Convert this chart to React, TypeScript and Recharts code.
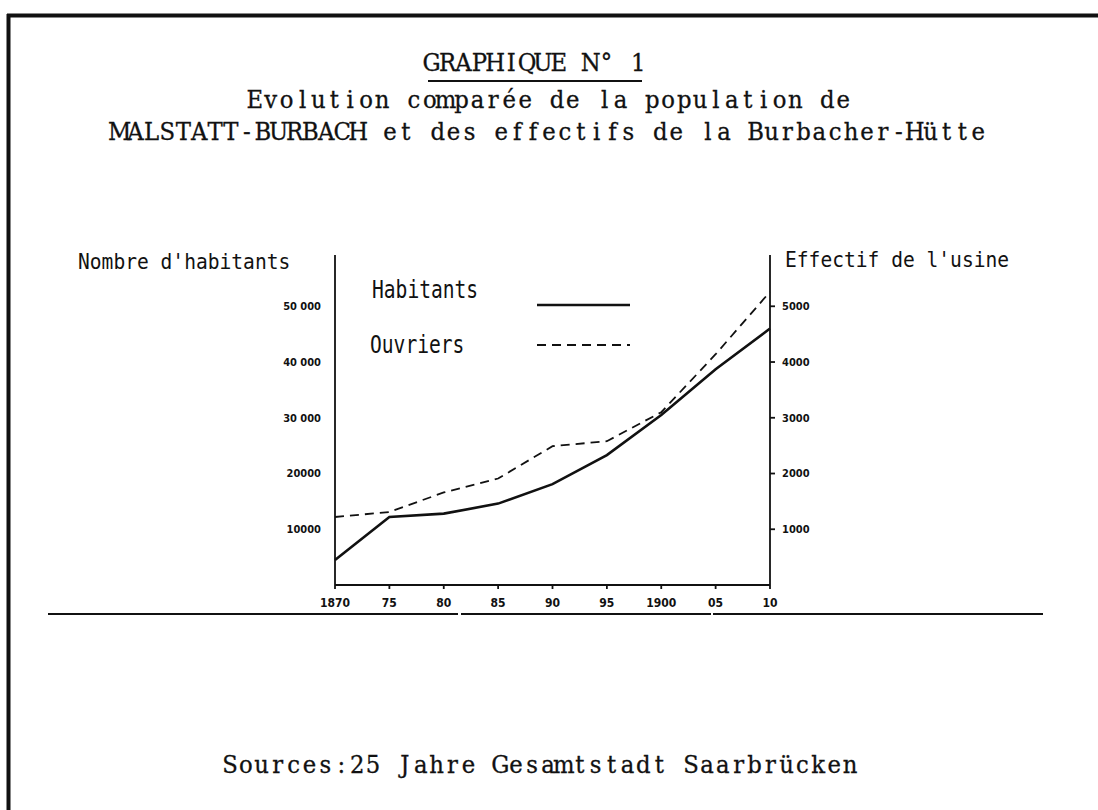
import { LineChart, Line, XAxis, YAxis } from 'recharts';

const years = [1870, 1875, 1880, 1885, 1890, 1895, 1900, 1905, 1910];
const xTickLabels = ['1870', '75', '80', '85', '90', '95', '1900', '05', '10'];
const habitants = [4500, 12200, 12800, 14600, 18100, 23300, 30500, 38700, 46000];
const ouvriers = [1220, 1310, 1660, 1910, 2490, 2580, 3100, 4140, 5260];
const leftTicks = [10000, 20000, 30000, 40000, 50000];
const leftTickLabels = ['10000', '20000', '30 000', '40 000', '50 000'];
const rightTicks = [1000, 2000, 3000, 4000, 5000];
const seriesNames = ['Habitants', 'Ouvriers'];

const INK = '#111';
const SERIF = '"DejaVu Serif", "Liberation Serif", serif';
const TYPE = '"DejaVu Sans Mono", monospace';
const NARROW = '"DejaVu Sans Condensed", "Liberation Sans Narrow", "DejaVu Sans", sans-serif';

const data = years.map((y, i) => ({ year: y, habitants: habitants[i], ouvriers: ouvriers[i] }));

// typewriter-like line: each glyph centred in a fixed-pitch cell
const PITCH = 15.9;
const SX = 0.95;
function TypeLine({ x, y, text }: { x: number; y: number; text: string }) {
  const chars = Array.from(text);
  const x0 = x - (chars.length * PITCH) / 2;
  const xs = chars.map((_, i) => (((i + 0.5) * PITCH) / SX).toFixed(1)).join(' ');
  return (
    <text
      transform={`translate(${x0},${y}) scale(${SX},1)`}
      x={xs}
      y={0}
      textAnchor="middle"
      fontFamily={SERIF}
      fontSize={24}
      fill={INK}
      stroke={INK}
      strokeWidth={0.3}
      style={{ fontVariantLigatures: 'none' }}
    >
      {text}
    </text>
  );
}

export default function App() {
  const tickFont = { fontFamily: NARROW, fontWeight: 700, fill: INK };
  return (
    <div style={{ position: 'relative', width: 1098, height: 810, background: '#fff' }}>
      <style>{'body{margin:0}'}</style>
      <div style={{ position: 'absolute', left: 0, top: 0 }}>
        <LineChart width={1098} height={810} data={data} margin={{ top: 255, right: 268, bottom: 195, left: 275 }}>
          <XAxis
            dataKey="year"
            type="number"
            domain={[1870, 1910]}
            ticks={years}
            tickFormatter={(v: number) => xTickLabels[years.indexOf(v)]}
            height={30}
            stroke={INK}
            strokeWidth={1.8}
            tickSize={4}
            tickMargin={9}
            tick={{ ...tickFont, fontSize: 12 }}
          />
          <YAxis
            yAxisId="left"
            orientation="left"
            width={60}
            domain={[0, 59200]}
            ticks={leftTicks}
            tickFormatter={(v: number) => leftTickLabels[leftTicks.indexOf(v)]}
            stroke={INK}
            strokeWidth={1.8}
            tickLine={false}
            tickSize={6}
            tickMargin={8}
            tick={{ ...tickFont, fontSize: 11 }}
          />
          <YAxis
            yAxisId="right"
            orientation="right"
            width={60}
            domain={[0, 5920]}
            ticks={rightTicks}
            stroke={INK}
            strokeWidth={1.8}
            tickSize={5}
            tickMargin={7}
            tick={{ ...tickFont, fontSize: 11 }}
          />
          <Line
            yAxisId="left"
            type="linear"
            dataKey="habitants"
            name={seriesNames[0]}
            stroke={INK}
            strokeWidth={2.6}
            dot={false}
            isAnimationActive={false}
          />
          <Line
            yAxisId="right"
            type="linear"
            dataKey="ouvriers"
            name={seriesNames[1]}
            stroke={INK}
            strokeWidth={1.8}
            strokeDasharray="9 6"
            dot={false}
            isAnimationActive={false}
          />
        </LineChart>
      </div>
      <svg
        width={1098}
        height={810}
        style={{ position: 'absolute', left: 0, top: 0, pointerEvents: 'none' }}
      >
        {/* page frame */}
        <line x1={8.5} y1={14} x2={8.5} y2={810} stroke={INK} strokeWidth={4} />
        <line x1={7} y1={15.5} x2={1098} y2={15.5} stroke={INK} strokeWidth={4} />
        {/* titles */}
        <TypeLine x={535} y={71} text="GRAPHIQUE N° 1" />
        <line x1={428} y1={81} x2={642} y2={81} stroke={INK} strokeWidth={2} />
        <TypeLine x={549} y={108} text="Evolution comparée de la population de" />
        <TypeLine x={549} y={140} text="MALSTATT-BURBACH et des effectifs de la Burbacher-Hütte" />
        <TypeLine x={540} y={773} text="Sources:25 Jahre Gesamtstadt Saarbrücken" />
        {/* axis titles */}
        <text transform="translate(78,269) scale(1,1.12)" fontFamily={TYPE} fontSize={19.6} fill={INK}>
          Nombre d'habitants
        </text>
        <text transform="translate(785,267) scale(1,1.12)" fontFamily={TYPE} fontSize={19.6} fill={INK}>
          Effectif de l'usine
        </text>
        {/* legend */}
        <text transform="translate(372,298) scale(1,1.25)" fontFamily={TYPE} fontSize={19.6} fill={INK}>
          {seriesNames[0]}
        </text>
        <line x1={537} y1={305} x2={630} y2={305} stroke={INK} strokeWidth={2.6} />
        <text transform="translate(370,353) scale(1,1.25)" fontFamily={TYPE} fontSize={19.6} fill={INK}>
          {seriesNames[1]}
        </text>
        <line x1={537} y1={345} x2={630} y2={345} stroke={INK} strokeWidth={1.8} strokeDasharray="9 6" />
        {/* separator */}
        <line x1={48} y1={614} x2={1045} y2={614} stroke={INK} strokeWidth={2} strokeDasharray="410 3 250 2 330" />
      </svg>
    </div>
  );
}
